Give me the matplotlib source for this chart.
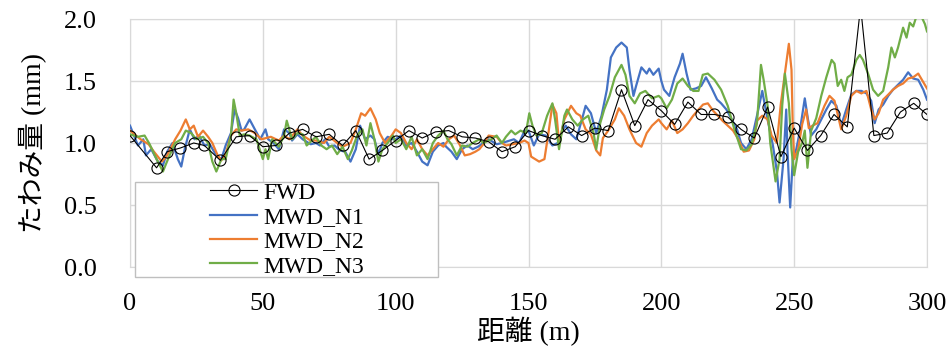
import matplotlib
matplotlib.use("Agg")
import matplotlib.pyplot as plt
from matplotlib.patches import Rectangle
from matplotlib.ticker import MultipleLocator, FormatStrFormatter

plt.rcParams['font.family'] = ['Liberation Serif', 'Noto Sans CJK JP']

# FWD measurements (distance m, deflection mm)
fwd_x = [0, 10, 14, 19, 24, 28, 34, 40, 45, 50, 55, 60, 65, 70, 75, 80, 85, 90, 95, 100,
         105, 110, 115, 120, 125, 130, 135, 140, 145, 150, 155, 160, 165, 170, 175, 180, 185, 190, 195, 200,
         205, 210, 215, 220, 225, 230, 235, 240, 245, 250, 255, 260, 265, 270, 275, 280, 285, 290, 295, 300]
fwd_y = [1.06, 0.80, 0.93, 0.96, 1.00, 0.98, 0.86, 1.05, 1.06, 0.97, 0.98, 1.08, 1.11, 1.05, 1.07, 0.98, 1.10, 0.87, 0.94, 1.02,
         1.10, 1.04, 1.09, 1.10, 1.05, 1.04, 1.01, 0.93, 0.97, 1.10, 1.06, 1.03, 1.13, 1.06, 1.12, 1.10, 1.43, 1.14, 1.35, 1.26,
         1.15, 1.33, 1.23, 1.23, 1.21, 1.11, 1.04, 1.29, 0.89, 1.12, 0.94, 1.06, 1.23, 1.13, 2.10, 1.06, 1.08, 1.25, 1.32, 1.23]

# MWD_N1
n1_x = [0, 3, 5, 6, 8, 10.5, 12.4, 14, 16, 18, 19.3, 20.6, 22.5, 24.3, 26, 28, 30, 32.5, 34.4, 36, 38, 39.4, 40.7, 42, 43, 45, 47, 49,
        51, 52, 54, 56, 58, 60, 61, 63, 65, 68, 70, 71.5, 73.4, 75, 77, 79, 81, 83, 85, 86.6, 88.5, 90.5, 92, 93.5, 95, 97, 99,
        100, 102, 104, 106, 108, 110, 112, 114, 116, 118, 119, 121, 123, 125, 127, 129, 131, 133, 135, 138, 140, 143, 144.5, 146.5, 148.5,
        150, 152, 154, 156.5, 159, 161, 163, 164, 166, 168, 170.5, 171.5, 173.5, 175.5, 177.5, 179.5, 181, 183, 185, 187, 188, 189.5, 190.5, 192.5, 194.5, 195.5, 197, 199,
        200, 201, 203, 205, 207, 208, 209.5, 211, 213, 215, 216.8, 219, 221, 222.5, 224.5, 226.5, 228.5, 230, 232, 234, 236, 238, 239, 240, 242, 243.5, 244.5, 246, 247, 247.5, 248.5, 249.5,
        250.8, 252, 254, 255.2, 256.4, 258.3, 260.2, 262.1, 264, 265.9, 267.7, 269.6, 271.5, 273.4, 275.3, 277.2, 279, 280.3, 281.8, 283.5, 285.4, 287.2, 289.1, 291, 292.9, 294.8, 296.7, 298.6, 300]
n1_y = [1.14, 0.98, 1.03, 0.90, 0.95, 0.85, 0.82, 0.93, 1.00, 0.87, 0.81, 0.95, 1.11, 1.03, 1.06, 0.98, 0.99, 0.90, 0.87, 0.98, 1.08, 1.27, 1.20, 1.10, 1.11, 1.19, 1.11, 1.03,
        1.11, 1.03, 1.00, 0.95, 1.11, 1.08, 1.02, 1.07, 1.03, 0.99, 1.00, 0.98, 1.03, 0.97, 0.98, 0.94, 0.93, 0.85, 0.95, 1.14, 1.03, 1.06, 1.03, 0.91, 1.00, 1.05, 1.03,
        1.03, 1.06, 0.98, 1.00, 0.93, 0.85, 0.82, 0.93, 0.98, 1.00, 0.97, 0.93, 0.87, 0.95, 0.98, 0.95, 0.97, 1.00, 1.03, 0.99, 1.00, 1.02, 1.03, 1.00, 1.10,
        1.10, 0.98, 1.07, 1.06, 0.98, 1.00, 1.11, 1.14, 1.07, 1.03, 1.22, 1.30, 1.24, 1.08, 1.22, 1.43, 1.69, 1.77, 1.81, 1.77, 1.59, 1.38, 1.46, 1.61, 1.56, 1.60, 1.55, 1.60,
        1.50, 1.43, 1.38, 1.53, 1.64, 1.72, 1.56, 1.43, 1.44, 1.46, 1.53, 1.44, 1.35, 1.32, 1.27, 1.19, 1.11, 1.00, 0.95, 1.03, 1.22, 1.42, 1.30, 1.19, 0.98, 0.77, 0.52, 0.87, 1.27, 0.93, 0.48, 0.88,
        0.95, 1.08, 1.36, 1.19, 1.06, 1.11, 1.19, 1.27, 1.34, 1.30, 1.14, 1.27, 1.39, 1.42, 1.42, 1.40, 1.34, 1.16, 1.27, 1.31, 1.38, 1.43, 1.47, 1.51, 1.57, 1.52, 1.51, 1.43, 1.35]

# MWD_N2
n2_x = [0, 4, 7, 9, 12, 14, 17, 19, 21, 22.5, 24, 25.6, 27.5, 29.4, 31, 33, 34.4, 36, 38, 40, 42, 44.5, 47, 49.5,
        53, 56, 58, 60, 63, 65, 68, 70, 73, 75, 78, 80, 83, 85, 87, 88.5, 90.5, 92.5, 94, 96, 98.5,
        100, 102, 104, 106, 108, 110, 112, 114, 116, 118, 120, 122, 124, 126, 128, 130, 131.5, 133, 135, 138, 140, 141.5, 144, 146.5, 148.5,
        150, 151, 154, 156, 157.5, 159, 160.5, 161.5, 163.5, 166, 168, 169.5, 171.5, 173.5, 175.5, 177, 178, 180, 182.5, 184, 186, 188, 190.5, 192.5, 194.5, 196.5, 199,
        200, 202, 204, 206, 208, 210, 212, 214, 215.7, 217.5, 219.5, 221.3, 223, 225, 227, 229, 231, 233, 235, 236, 238, 240, 241.5, 243.5, 245, 246.5, 248, 249, 249.5, 250,
        251.5, 253, 254.5, 255.5, 256.9, 258.8, 261.4, 263.3, 265.2, 267.7, 269.6, 271.5, 273.4, 275.3, 277.2, 279, 280.3, 281.8, 283.5, 285.4, 287.2, 289.1, 291, 292.9, 294.8, 296.7, 298.6, 300]
n2_y = [1.10, 1.03, 0.99, 0.93, 0.85, 0.90, 1.03, 1.10, 1.19, 1.11, 1.14, 1.05, 1.10, 1.05, 1.00, 0.90, 0.86, 0.91, 1.06, 1.11, 1.10, 1.11, 1.08, 1.03,
        1.05, 1.02, 1.06, 1.03, 1.11, 1.06, 1.02, 1.02, 1.00, 1.05, 1.00, 0.97, 1.00, 1.11, 1.24, 1.22, 1.28, 1.19, 1.08, 1.00, 1.06,
        1.11, 1.08, 1.00, 0.95, 1.03, 0.95, 0.90, 0.95, 1.00, 0.97, 1.03, 1.06, 0.99, 0.90, 0.91, 0.93, 0.95, 0.99, 1.06, 1.05, 1.00, 0.98, 0.99, 1.00, 1.02,
        1.00, 0.89, 0.85, 0.87, 1.08, 1.31, 1.24, 1.00, 1.19, 1.30, 1.24, 1.22, 1.11, 1.07, 0.94, 0.90, 1.04, 1.10, 1.19, 1.28, 1.22, 1.11, 1.00, 0.97, 1.08, 1.14, 1.19,
        1.16, 1.11, 1.18, 1.08, 1.11, 1.16, 1.22, 1.27, 1.31, 1.32, 1.26, 1.22, 1.18, 1.14, 1.10, 1.03, 0.93, 0.94, 1.03, 1.18, 1.22, 1.19, 1.06, 1.00, 1.32, 1.56, 1.80, 1.59, 1.11, 0.87,
        0.95, 1.15, 1.27, 1.12, 1.14, 1.16, 1.30, 1.38, 1.34, 1.11, 1.22, 1.38, 1.42, 1.40, 1.42, 1.27, 1.19, 1.24, 1.35, 1.39, 1.43, 1.46, 1.48, 1.52, 1.53, 1.56, 1.49, 1.44]

# MWD_N3
n3_x = [0, 3, 5.5, 7.4, 10, 12.4, 14.3, 17, 19.3, 21, 23, 25, 27.5, 29.4, 31, 32.5, 34.4, 36, 38, 39, 40, 41.3, 43, 45, 47.6,
        50, 51, 52, 53.5, 56, 58, 59, 61, 63, 65, 66.5, 68.5, 70, 72, 74, 76, 78, 80, 82, 83.5, 85.5, 87.5, 89, 90.5, 92, 93.5, 95, 97, 99,
        100, 102, 104, 106, 108, 110, 112, 114, 116, 118, 119.5, 121, 123, 125, 127, 129, 131.5, 133, 136, 138, 140, 141.5, 143.5, 145, 147, 149, 150.3, 151.5, 153,
        155, 157, 159, 160, 161.5, 163.5, 164.5, 166.5, 168.5, 170.5, 172.5, 174.5, 175.5, 177, 178.5, 180.5, 182.5, 184, 185, 186.5, 188, 190, 192, 194, 196.5, 199,
        200, 202, 204, 206, 208, 210, 212, 214, 215.6, 217.5, 220, 222.5, 225, 227.5, 230, 232, 234, 236, 237.5, 238.5, 240, 241, 243, 244.5, 245.5, 246.5, 248, 249, 250, 251.5,
        253, 254, 255, 256.4, 258.3, 260.2, 262.1, 264.1, 265.2, 266.4, 267.7, 268.9, 270.1, 271.5, 273.4, 274.7, 275.9, 277.8, 279.7, 281.6, 283.5, 285.4, 286.6, 287.9, 289.1, 291, 292.3, 293.5, 294.8, 296, 297.9, 299.2, 300]
n3_y = [1.07, 1.05, 1.06, 0.99, 0.87, 0.77, 0.87, 1.00, 1.03, 1.10, 1.08, 1.03, 1.05, 1.00, 0.85, 0.77, 0.87, 0.87, 1.06, 1.35, 1.24, 1.06, 1.07, 1.06, 1.03,
        0.87, 0.95, 0.87, 1.03, 0.97, 1.06, 1.18, 1.03, 1.08, 1.07, 0.98, 1.02, 1.05, 0.98, 0.95, 0.98, 0.91, 0.97, 0.87, 0.94, 1.06, 1.11, 0.98, 1.16, 1.03, 0.85, 0.95, 1.00, 1.06,
        1.00, 1.03, 0.95, 1.05, 0.90, 0.95, 0.87, 1.00, 1.06, 1.10, 1.03, 0.99, 0.90, 0.98, 0.97, 1.00, 1.03, 1.00, 1.03, 1.06, 1.00, 1.05, 1.10, 1.07, 1.10, 1.08, 1.24, 1.14, 1.06,
        1.08, 1.22, 1.32, 1.19, 0.95, 1.22, 1.27, 1.19, 1.14, 1.19, 1.22, 1.08, 0.95, 1.16, 1.27, 1.38, 1.53, 1.59, 1.63, 1.55, 1.38, 1.32, 1.40, 1.42, 1.36, 1.38,
        1.36, 1.28, 1.35, 1.48, 1.52, 1.46, 1.42, 1.42, 1.55, 1.56, 1.51, 1.43, 1.30, 1.11, 0.95, 0.94, 0.99, 1.16, 1.63, 1.51, 1.30, 1.00, 0.69, 0.87, 1.30, 1.56, 1.32, 0.95, 0.74, 0.93,
        1.00, 1.10, 0.80, 1.10, 1.20, 1.38, 1.53, 1.67, 1.64, 1.46, 1.51, 1.42, 1.53, 1.55, 1.67, 1.71, 1.67, 1.56, 1.43, 1.38, 1.42, 1.61, 1.77, 1.69, 1.77, 1.93, 1.85, 1.97, 1.94, 2.02, 2.02, 1.96, 1.90]

fig = plt.figure(figsize=(9.5, 3.47), dpi=100)
ax = fig.add_axes([130 / 950, 1 - 267 / 347, 797 / 950, 248 / 347])

ax.plot(n1_x, n1_y, color='#4472C4', lw=1.6, label='MWD_N1', zorder=3)
ax.plot(n2_x, n2_y, color='#ED7D31', lw=1.6, label='MWD_N2', zorder=3)
ax.plot(n3_x, n3_y, color='#70AD47', lw=1.6, label='MWD_N3', zorder=3)
ax.plot(fwd_x, fwd_y, color='black', lw=0.8, marker='o', markersize=8,
        markerfacecolor='none', markeredgewidth=0.8, label='FWD', zorder=4)

ax.set_xlim(0, 300)
ax.set_ylim(0, 2.0)
ax.xaxis.set_major_locator(MultipleLocator(50))
ax.yaxis.set_major_locator(MultipleLocator(0.5))
ax.yaxis.set_major_formatter(FormatStrFormatter('%.1f'))
ax.grid(True, color='#D9D9D9', lw=1)
ax.set_axisbelow(True)
for s in ax.spines.values():
    s.set_color('#D9D9D9')
ax.tick_params(axis='both', length=0, labelsize=19)
ax.tick_params(axis='y', pad=24)
ax.tick_params(axis='x', pad=19)

ax.set_xlabel('距離 (m)', fontsize=20, labelpad=1)
ax.set_ylabel('たわみ量 (mm)', fontsize=20, labelpad=12)

# legend frame (extends below the plot area like in the original)
box = Rectangle((135 / 950, 1 - 277 / 347), 303 / 950, 95 / 347, transform=fig.transFigure,
                facecolor='white', edgecolor='#BFBFBF', lw=1, clip_on=False, zorder=5)
ax.add_patch(box)

handles, labels = ax.get_legend_handles_labels()
order = [3, 0, 1, 2]
leg = ax.legend([handles[i] for i in order], [labels[i] for i in order],
                loc='upper left', bbox_to_anchor=(210 / 950, 1 - 182 / 347),
                bbox_transform=fig.transFigure, frameon=False, fontsize=17,
                borderpad=0, borderaxespad=0, handlelength=2.0, handletextpad=0.25,
                labelspacing=0.12)
leg.set_zorder(6)

fig.savefig('out.png', dpi=100)
